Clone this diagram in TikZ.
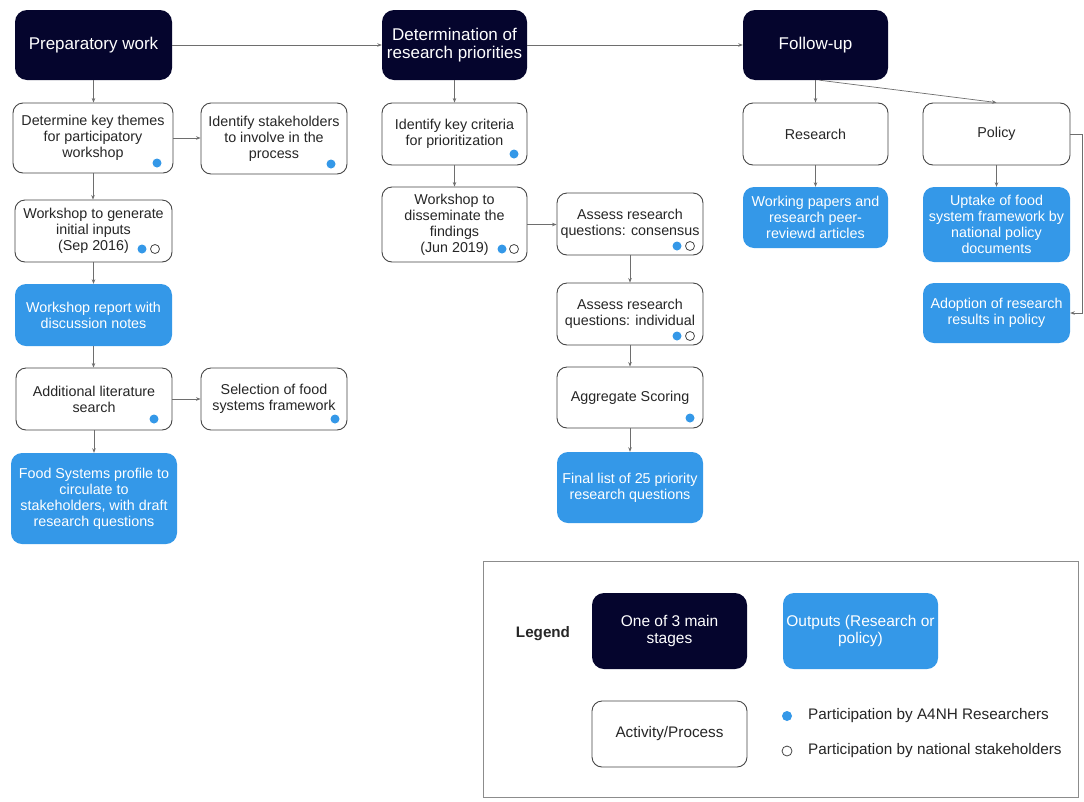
\documentclass[tikz,border=0pt]{standalone}
\usepackage{fontspec}
\setmainfont{Liberation Sans}
\usetikzlibrary{arrows.meta}
\definecolor{navy}{RGB}{5,5,45}
\definecolor{outblue}{RGB}{52,152,232}
\definecolor{edgegray}{RGB}{70,70,70}
\definecolor{linegray}{RGB}{110,110,110}
\tikzset{
  stage/.style={draw=none, fill=navy, text=white, rounded corners=12pt, align=center, inner sep=0pt, font=\fontsize{17}{18.5}\selectfont},
  activity/.style={draw=edgegray, line width=0.9pt, fill=white, text=black!85, rounded corners=10pt, align=center, inner sep=0pt, font=\fontsize{14.3}{16}\selectfont},
  output/.style={draw=none, fill=outblue, text=white, rounded corners=11pt, align=center, inner sep=0pt, font=\fontsize{14.3}{16}\selectfont},
  arr/.style={draw=linegray, line width=0.7pt, -{Stealth[length=4.5pt,width=3.5pt]}},
  bdot/.style={circle, fill=outblue, minimum size=9pt, inner sep=0pt},
  wdot/.style={circle, draw=edgegray, line width=0.8pt, fill=white, minimum size=9pt, inner sep=0pt},
  legtext/.style={anchor=west, inner sep=0pt, text=black!85, font=\fontsize{15.3}{17}\selectfont},
}
\begin{document}
\begin{tikzpicture}[x=1pt,y=-1pt]
\useasboundingbox[fill=white] (0,0) rectangle (1084,801);

% stages
\node[stage, minimum width=157pt, minimum height=70pt] (prep) at (93.5,45) {Preparatory work};
\node[stage, minimum width=145pt, minimum height=70pt] (det) at (454.5,45) {Determination of\\research priorities};
\node[stage, minimum width=145pt, minimum height=70pt] (fol) at (815.5,45) {Follow-up};

% column 1
\node[activity, minimum width=160pt, minimum height=70pt] (themes) at (93,138) {Determine key themes\\for participatory\\workshop};
\node[activity, minimum width=146pt, minimum height=71pt] (stake) at (274,138.5) {Identify stakeholders\\to involve in the\\process};
\node[activity, minimum width=157pt, minimum height=62pt] (wgen) at (93.5,231) {Workshop to generate\\initial inputs\\(Sep 2016)};
\node[output, minimum width=157pt, minimum height=62pt] (report) at (93.5,315) {Workshop report with\\discussion notes};
\node[activity, minimum width=156pt, minimum height=62pt] (addlit) at (94,399) {Additional literature\\search};
\node[activity, minimum width=146pt, minimum height=62pt] (select) at (274,399) {Selection of food\\systems framework};
\node[output, minimum width=166pt, minimum height=91pt] (profile) at (94,498.5) {Food Systems profile to\\circulate to\\stakeholders, with draft\\research questions};

% column 2
\node[activity, minimum width=145pt, minimum height=62pt] (crit) at (454.5,134) {Identify key criteria\\for prioritization};
\node[activity, minimum width=145pt, minimum height=75pt] (wdis) at (454.5,224.5) {Workshop to\\disseminate the\\findings\\(Jun 2019)};
\node[activity, minimum width=146pt, minimum height=62pt] (cons) at (630,224) {Assess research\\questions: consensus};
\node[activity, minimum width=146pt, minimum height=62pt] (indiv) at (630,314) {Assess research\\questions: individual};
\node[activity, minimum width=146pt, minimum height=61pt] (aggr) at (630,397.5) {Aggregate Scoring};
\node[output, minimum width=146pt, minimum height=71pt] (final) at (630,487.5) {Final list of 25 priority\\research questions};

% column 3
\node[activity, minimum width=145pt, minimum height=62pt] (res) at (815.5,134) {Research};
\node[activity, minimum width=147pt, minimum height=62pt] (pol) at (996.5,134) {Policy};
\node[output, minimum width=145pt, minimum height=61pt] (wpap) at (815.5,217.5) {Working papers and\\research peer-\\reviewd articles};
\node[output, minimum width=147pt, minimum height=75pt] (uptake) at (996.5,224.5) {Uptake of food\\system framework by\\national policy\\documents};
\node[output, minimum width=147pt, minimum height=60pt] (adopt) at (996.5,313) {Adoption of research\\results in policy};

% dots
\node[bdot] (d1) at (157,163) {};
\node[bdot] (d2) at (331,164) {};
\node[bdot] (d3) at (142,249) {};
\node[wdot] (d4) at (155,249) {};
\node[bdot] (d5) at (154,419) {};
\node[bdot] (d6) at (335,419) {};
\node[bdot] (d7) at (514,154) {};
\node[bdot] (d8) at (502,249) {};
\node[wdot] (d9) at (514,249) {};
\node[bdot] (d10) at (677,246) {};
\node[wdot] (d11) at (690,246) {};
\node[bdot] (d12) at (677,336) {};
\node[wdot] (d13) at (690,336) {};
\node[bdot] (d14) at (690,418) {};

% connectors
\draw[arr] (prep.east) -- (det.west);
\draw[arr] (det.east) -- (fol.west);
\draw[arr] (prep.south) -- (prep.south |- themes.north);
\draw[arr] (themes.east) -- (themes.east -| stake.west);
\draw[arr] (themes.south) -- (themes.south |- wgen.north);
\draw[arr] (wgen.south) -- (wgen.south |- report.north);
\draw[arr] (report.south) -- (report.south |- addlit.north);
\draw[arr] (addlit.east) -- (addlit.east -| select.west);
\draw[arr] (addlit.south) -- (addlit.south |- profile.north);
\draw[arr] (det.south) -- (crit.north);
\draw[arr] (crit.south) -- (wdis.north);
\draw[arr] (wdis.east) -- (wdis.east -| cons.west);
\draw[arr] (cons.south) -- (indiv.north);
\draw[arr] (indiv.south) -- (aggr.north);
\draw[arr] (aggr.south) -- (final.north);
\draw[arr] (fol.south) -- (res.north);
\draw[arr] ([xshift=4pt]fol.south) -- (pol.north);
\draw[arr] (res.south) -- (wpap.north);
\draw[arr] (pol.south) -- (uptake.north);
\coordinate (bend) at (1082,134);
\draw[arr] (pol.east) -- (bend) |- (adopt.east);

% legend
\node[draw=black!45, line width=0.9pt, minimum width=595pt, minimum height=236pt, inner sep=0pt] (legbox) at (780.5,679) {};
\node[font=\bfseries\fontsize{15.2}{17}\selectfont, text=black!85] (legtitle) at (543,634) {Legend};
\node[stage, minimum width=155pt, minimum height=76pt, font=\fontsize{15.5}{17.5}\selectfont] (lstage) at (669.5,631) {One of 3 main\\stages};
\node[output, minimum width=155pt, minimum height=76pt, font=\fontsize{15.5}{17.5}\selectfont] (lout) at (860.5,631) {Outputs (Research or\\policy)};
\node[activity, minimum width=155pt, minimum height=66pt, font=\fontsize{15.3}{17}\selectfont] (lact) at (669.5,734) {Activity/Process};
\node[bdot, minimum size=10pt] (lb) at (787,716) {};
\node[wdot, minimum size=10pt] (lw) at (787,751) {};
\node[legtext] (lbt) at (808,716) {Participation by A4NH Researchers};
\node[legtext] (lwt) at (808,751) {Participation by national stakeholders};
\end{tikzpicture}
\end{document}
